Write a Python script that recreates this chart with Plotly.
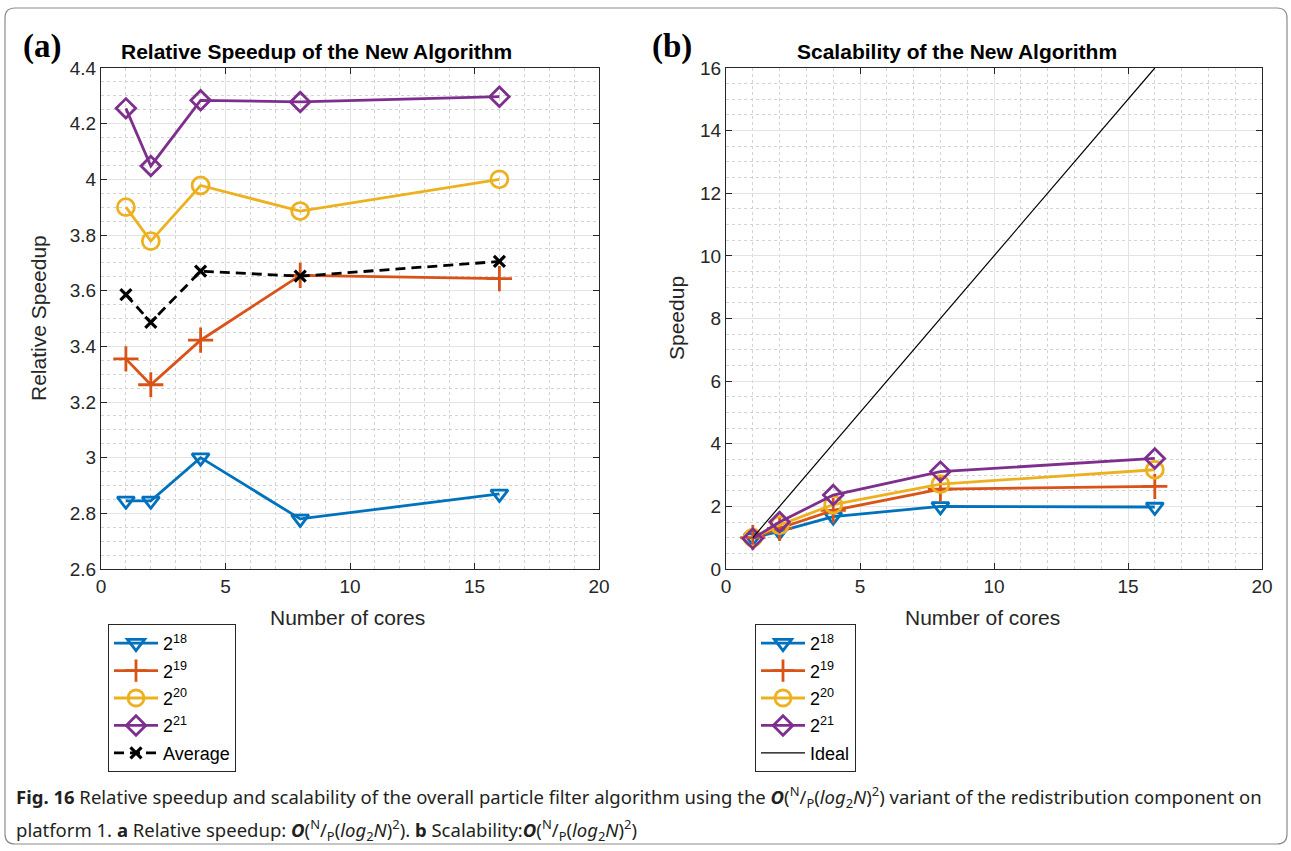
import plotly.graph_objects as go

# ---- data -------------------------------------------------------------
cores = [1, 2, 4, 8, 16]
series_names = ["2<sup>18</sup>", "2<sup>19</sup>", "2<sup>20</sup>", "2<sup>21</sup>"]

# (a) relative speedup of the new algorithm
rel_2_18 = [2.845, 2.845, 3.00, 2.78, 2.87]
rel_2_19 = [3.355, 3.262, 3.422, 3.655, 3.643]
rel_2_20 = [3.90, 3.778, 3.978, 3.886, 4.00]
rel_2_21 = [4.255, 4.048, 4.284, 4.278, 4.297]
rel_average = [3.586, 3.486, 3.670, 3.652, 3.705]

# (b) scalability (speedup vs. 1 core)
scal_2_18 = [1.00, 1.20, 1.67, 2.00, 1.98]
scal_2_19 = [1.00, 1.30, 1.87, 2.55, 2.64]
scal_2_20 = [1.00, 1.40, 2.06, 2.71, 3.17]
scal_2_21 = [0.97, 1.50, 2.36, 3.11, 3.53]
ideal_cores = [1, 16]
ideal_speedup = [1, 16]

colors = ["#0072BD", "#D95319", "#EDB120", "#7E2F8E"]
symbols = ["triangle-down-open", "cross-thin-open", "circle-open", "diamond-open"]
sizes = [15, 18, 17, 15]

W, H = 1291, 851
FONT = "Liberation Sans"
AXC = "#262626"
LW = 2.8


def px(x):
    return x / W


def py(y):
    return 1 - y / H


fig = go.Figure()

rel_sets = [rel_2_18, rel_2_19, rel_2_20, rel_2_21]
scal_sets = [scal_2_18, scal_2_19, scal_2_20, scal_2_21]

for i in range(4):
    fig.add_trace(go.Scatter(
        x=cores, y=rel_sets[i], name=series_names[i], mode="lines+markers",
        line=dict(color=colors[i], width=LW),
        marker=dict(symbol=symbols[i], size=sizes[i], color=colors[i],
                    line=dict(color=colors[i], width=LW)),
        xaxis="x", yaxis="y", legend="legend", legendgroup=f"a{i}"))
fig.add_trace(go.Scatter(
    x=cores, y=rel_average, name="Average", mode="lines+markers",
    line=dict(color="black", width=LW, dash="10px,6px"),
    marker=dict(symbol="x-thin-open", size=11, color="black",
                line=dict(color="black", width=3.2)),
    xaxis="x", yaxis="y", legend="legend", legendgroup="a4"))

for i in range(4):
    fig.add_trace(go.Scatter(
        x=cores, y=scal_sets[i], name=series_names[i], mode="lines+markers",
        line=dict(color=colors[i], width=LW),
        marker=dict(symbol=symbols[i], size=sizes[i], color=colors[i],
                    line=dict(color=colors[i], width=LW)),
        xaxis="x2", yaxis="y2", legend="legend2", legendgroup=f"b{i}"))
fig.add_trace(go.Scatter(
    x=ideal_cores, y=ideal_speedup, name="Ideal", mode="lines",
    line=dict(color="black", width=1.2),
    xaxis="x2", yaxis="y2", legend="legend2", legendgroup="b4"))


def axis(domain, rng, dtick, minor_dtick, anchor):
    return dict(
        domain=domain, range=rng, dtick=dtick, tick0=0, anchor=anchor,
        showline=True, linecolor=AXC, linewidth=1.2, mirror="ticks",
        ticks="inside", ticklen=6, tickcolor=AXC, tickwidth=1,
        tickfont=dict(family=FONT, size=19, color=AXC),
        showgrid=True, gridcolor="#e3e3e3", gridwidth=1,
        minor=dict(dtick=minor_dtick, tick0=0, showgrid=True, gridcolor="#d3d3d3",
                   griddash="dot", gridwidth=1, ticks=""),
        zeroline=False, fixedrange=True, automargin=False)


ydom = [py(569), py(68)]
legend_common = dict(yanchor="top", xanchor="left", bgcolor="white",
                     bordercolor="#262626", borderwidth=1,
                     font=dict(family=FONT, size=18, color="black"),
                     itemwidth=44, tracegroupgap=1)
fig.update_layout(
    width=W, height=H, margin=dict(l=0, r=0, t=0, b=0, autoexpand=False),
    paper_bgcolor="white", plot_bgcolor="white", showlegend=True,
    xaxis=axis([px(101), px(599)], [0, 20], 5, 1, "y"),
    yaxis=axis(ydom, [2.6, 4.4], 0.2, 0.05, "x"),
    xaxis2=axis([px(726), px(1262)], [0, 20], 5, 1, "y2"),
    yaxis2=axis(ydom, [0, 16], 2, 0.5, "x2"),
    legend=dict(x=px(108), y=py(624), **legend_common),
    legend2=dict(x=px(755), y=py(624), **legend_common),
)

ann = []
SERIF = "Liberation Serif"
# panel letters and titles
ann.append(dict(text="<b>(a)</b>", x=px(21), y=py(47), xanchor="left", yanchor="middle",
                font=dict(family=SERIF, size=33, color="black")))
ann.append(dict(text="<b>(b)</b>", x=px(650), y=py(47), xanchor="left", yanchor="middle",
                font=dict(family=SERIF, size=33, color="black")))
ann.append(dict(text="<b>Relative Speedup of the New Algorithm</b>", x=px(316), y=py(51),
                xanchor="center", yanchor="middle",
                font=dict(family=FONT, size=21, color="black")))
ann.append(dict(text="<b>Scalability of the New Algorithm</b>", x=px(957), y=py(51),
                xanchor="center", yanchor="middle",
                font=dict(family=FONT, size=21, color="black")))
# axis titles
ann.append(dict(text="Number of cores", x=px(347), y=py(617), xanchor="center", yanchor="middle",
                font=dict(family=FONT, size=21, color=AXC)))
ann.append(dict(text="Number of cores", x=px(982), y=py(617), xanchor="center", yanchor="middle",
                font=dict(family=FONT, size=21, color=AXC)))
ann.append(dict(text="Relative Speedup", x=px(38), y=py(318), xanchor="center", yanchor="middle",
                textangle=-90, font=dict(family=FONT, size=21, color=AXC)))
ann.append(dict(text="Speedup", x=px(676), y=py(318), xanchor="center", yanchor="middle",
                textangle=-90, font=dict(family=FONT, size=21, color=AXC)))

# caption
bigo = "<b><i>O</i></b>(<sup>N</sup>/<sub>P</sub>(<i>log</i><sub>2</sub><i>N</i>)<sup>2</sup>)"
cap1 = ("<b>Fig. 16</b> Relative speedup and scalability of the overall particle filter algorithm "
        "using the " + bigo + " variant of the redistribution component on")
cap2 = ("platform 1. <b>a</b> Relative speedup: " + bigo + ". <b>b</b> Scalability:" + bigo)
CAPFONT = dict(family="Noto Sans", size=18.5, color="#231f20")
ann.append(dict(text=cap1, x=px(14), y=py(797), xanchor="left", yanchor="middle", font=CAPFONT))
ann.append(dict(text=cap2, x=px(14), y=py(830), xanchor="left", yanchor="middle", font=CAPFONT))

for a in ann:
    a.update(xref="paper", yref="paper", showarrow=False)
fig.update_layout(annotations=ann)

# rounded outer frame
x0, y0, x1, y1, r = 5, 8, 1287, 844, 10
path = (f"M {px(x0 + r)},{py(y0)} L {px(x1 - r)},{py(y0)} Q {px(x1)},{py(y0)} {px(x1)},{py(y0 + r)} "
        f"L {px(x1)},{py(y1 - r)} Q {px(x1)},{py(y1)} {px(x1 - r)},{py(y1)} "
        f"L {px(x0 + r)},{py(y1)} Q {px(x0)},{py(y1)} {px(x0)},{py(y1 - r)} "
        f"L {px(x0)},{py(y0 + r)} Q {px(x0)},{py(y0)} {px(x0 + r)},{py(y0)} Z")
fig.add_shape(type="path", path=path, xref="paper", yref="paper",
              line=dict(color="#8c8c8c", width=1.2), layer="below")

# the page body keeps no default margin so the figure fills the window exactly
fig.write_html("out.html",
               post_script="document.body.style.margin='0';document.body.style.overflow='hidden';")
